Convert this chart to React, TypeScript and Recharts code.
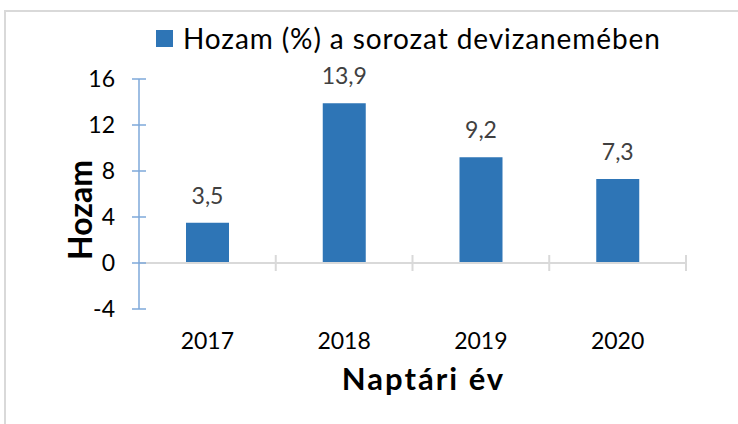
import { BarChart, Bar, XAxis, YAxis, LabelList, Legend, ReferenceLine } from "recharts";

const years = ["2017", "2018", "2019", "2020"];
const hozam = [3.5, 13.9, 9.2, 7.3];
const yTicks = [-4, 0, 4, 8, 12, 16];
const seriesName = "Hozam (%) a sorozat devizanemében";

const data = years.map((year, i) => ({ year, hozam: hozam[i] }));

const FONT = "Lato, sans-serif";
const BAR = "#2e75b6";
const BLUE_AXIS = "#7ea9da";
const GRAY = "#d9d9d9";

function YTick(props: any) {
  const { x, y, payload } = props;
  return (
    <g>
      <line x1={x - 7} x2={x + 7} y1={y} y2={y} stroke={BLUE_AXIS} strokeWidth={1.5} />
      <text x={x - 24} y={y} dy={8} textAnchor="end" fontSize={23} fontFamily={FONT} fill="#000">
        {payload.value}
      </text>
    </g>
  );
}

// zero line with category boundary ticks
function ZeroLine(props: any) {
  const { x1, x2, y1 } = props;
  const step = (x2 - x1) / years.length;
  return (
    <g>
      <line x1={x1} x2={x2} y1={y1} y2={y1} stroke={GRAY} strokeWidth={2} />
      {years.map((_, i) => (
        <line key={i} x1={x1 + step * (i + 1)} x2={x1 + step * (i + 1)} y1={y1 - 8} y2={y1 + 8} stroke={GRAY} strokeWidth={2} />
      ))}
    </g>
  );
}

function LegendContent(props: any) {
  const { payload } = props;
  return (
    <div style={{ display: "flex", alignItems: "center" }}>
      {(payload || []).map((p: any) => (
        <div key={p.value} style={{ display: "flex", alignItems: "center" }}>
          <span style={{ width: 17, height: 17, background: p.color, display: "inline-block", marginRight: 10 }} />
          <span style={{ fontFamily: FONT, fontSize: 28, letterSpacing: 0.9, color: "#000", lineHeight: "30px" }}>{p.value}</span>
        </div>
      ))}
    </div>
  );
}

function YTitle(props: any) {
  const { viewBox } = props;
  const cx = viewBox.x + 2;
  const cy = viewBox.y + viewBox.height / 2 + 16;
  return (
    <text x={cx} y={cy} transform={`rotate(-90 ${cx} ${cy})`} textAnchor="middle" dy={11} fontSize={32} fontWeight={700} fontFamily={FONT} fill="#000">
      Hozam
    </text>
  );
}

export default function App() {
  return (
    <div style={{ position: "absolute", left: 0, top: 0, width: 738, height: 424, overflow: "hidden", background: "#fff" }}>
      <div style={{ position: "absolute", left: 4, top: 10, width: 800, height: 500, border: `2px solid ${GRAY}` }} />
      <div style={{ position: "absolute", left: 0, top: 0 }}>
        <BarChart width={738} height={424} data={data} margin={{ top: 79, right: 52, bottom: 55, left: 79 }}>
          <Legend
            verticalAlign="middle"
            align="center"
            content={<LegendContent />}
            wrapperStyle={{ position: "absolute", left: 156, top: 23, width: "auto" }}
          />
          <XAxis
            dataKey="year"
            axisLine={false}
            tickLine={false}
            tickSize={0}
            tickMargin={24}
            height={60}
            tick={{ fontSize: 23, fontFamily: FONT, fill: "#000" }}
            label={{ value: "Naptári év", position: "insideBottom", offset: -21, dx: 11, fontSize: 31, fontWeight: 700, fontFamily: FONT, fill: "#000", letterSpacing: 2 }}
          />
          <YAxis
            width={60}
            domain={[-4, 16]}
            ticks={yTicks}
            interval={0}
            axisLine={{ stroke: BLUE_AXIS, strokeWidth: 1.5 }}
            tickLine={false}
            tickSize={0}
            tickMargin={0}
            tick={<YTick />}
            label={<YTitle />}
          />
          <ReferenceLine y={0} shape={<ZeroLine />} />
          <Bar dataKey="hozam" name={seriesName} fill={BAR} barSize={43} isAnimationActive={false}>
            <LabelList
              dataKey="hozam"
              position="top"
              offset={19}
              formatter={(v: any) => String(v).replace(".", ",")}
              style={{ fontSize: 23, fontFamily: FONT, fill: "#404040" }}
            />
          </Bar>
        </BarChart>
      </div>
    </div>
  );
}
